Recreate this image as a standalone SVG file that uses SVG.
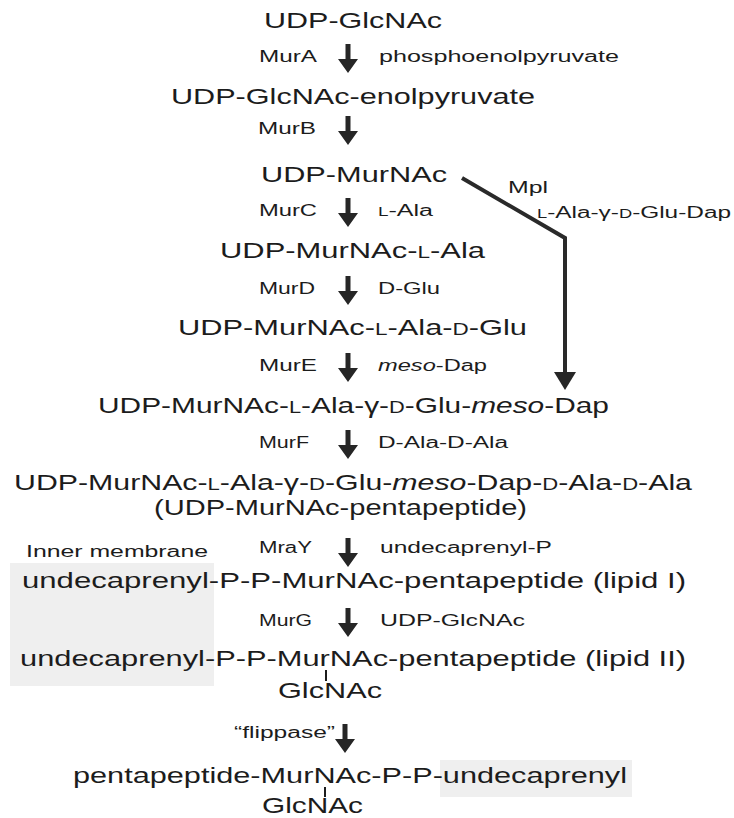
<svg xmlns="http://www.w3.org/2000/svg" width="734" height="818" viewBox="0 0 734 818">
<style>
text{font-family:"Liberation Sans",Arial,sans-serif;fill:#1c1c1c}
.m{font-size:22px}
.l{font-size:16px}
.sc{font-size:16px}
.scl{font-size:12px}
.i{font-style:italic}
.arr{fill:#262626}
.bond{stroke:#1c1c1c;stroke-width:2}
</style>
<defs>
<path id="ar" class="arr" d="M-2.5,0 H2.5 V15 H10 L0,29 L-10,15 H-2.5 Z"/>
</defs>
<rect x="10" y="563" width="204" height="123" fill="#efefef"/>
<rect x="440" y="760" width="192" height="37" fill="#efefef"/>
<g id="connectors">
<use href="#ar" x="348" y="44"/>
<use href="#ar" x="348" y="116"/>
<use href="#ar" x="348" y="198"/>
<use href="#ar" x="348" y="276"/>
<use href="#ar" x="348" y="353"/>
<use href="#ar" x="348" y="430"/>
<use href="#ar" x="348" y="538"/>
<use href="#ar" x="348" y="608"/>
<use href="#ar" x="345" y="724"/>
<polyline points="462,178 565,238 565,376" fill="none" stroke="#2a2a2a" stroke-width="4"/>
<path class="arr" d="M554,372 H576 L565,390 Z"/>
</g>
<g id="labels">
<text class="l" x="259" y="62" textLength="58" lengthAdjust="spacingAndGlyphs">MurA</text>
<text class="l" x="379" y="62" textLength="240" lengthAdjust="spacingAndGlyphs">phosphoenolpyruvate</text>
<text class="l" x="258" y="134" textLength="58" lengthAdjust="spacingAndGlyphs">MurB</text>
<text class="l" x="259" y="216" textLength="58" lengthAdjust="spacingAndGlyphs">MurC</text>
<text class="l" x="378" y="216" textLength="55" lengthAdjust="spacingAndGlyphs"><tspan class="scl">L</tspan>-Ala</text>
<text class="l" x="508" y="193" textLength="40" lengthAdjust="spacingAndGlyphs">Mpl</text>
<text class="l" x="537" y="218" textLength="194" lengthAdjust="spacingAndGlyphs"><tspan class="scl">L</tspan>-Ala-γ-<tspan class="scl">D</tspan>-Glu-Dap</text>
<text class="l" x="259" y="294" textLength="56" lengthAdjust="spacingAndGlyphs">MurD</text>
<text class="l" x="378" y="294" textLength="62" lengthAdjust="spacingAndGlyphs">D-Glu</text>
<text class="l" x="259" y="371" textLength="58" lengthAdjust="spacingAndGlyphs">MurE</text>
<text class="l" x="378" y="371" textLength="109" lengthAdjust="spacingAndGlyphs"><tspan class="i">meso</tspan>-Dap</text>
<text class="l" x="259" y="448" textLength="50" lengthAdjust="spacingAndGlyphs">MurF</text>
<text class="l" x="378" y="448" textLength="130" lengthAdjust="spacingAndGlyphs">D-Ala-D-Ala</text>
<text class="l" x="259" y="553" textLength="53" lengthAdjust="spacingAndGlyphs">MraY</text>
<text class="l" x="380" y="553" textLength="172" lengthAdjust="spacingAndGlyphs">undecaprenyl-P</text>
<text class="l" x="26" y="557" textLength="182" lengthAdjust="spacingAndGlyphs">Inner membrane</text>
<text class="l" x="259" y="626" textLength="53" lengthAdjust="spacingAndGlyphs">MurG</text>
<text class="l" x="380" y="626" textLength="145" lengthAdjust="spacingAndGlyphs">UDP-GlcNAc</text>
<text class="l" x="234" y="738" textLength="101" lengthAdjust="spacingAndGlyphs">“flippase”</text>
</g>
<g id="n1"><text class="m" x="264" y="28" textLength="178" lengthAdjust="spacingAndGlyphs">UDP-GlcNAc</text></g>
<g id="n2"><text class="m" x="171" y="104" textLength="364" lengthAdjust="spacingAndGlyphs">UDP-GlcNAc-enolpyruvate</text></g>
<g id="n3"><text class="m" x="261" y="182" textLength="186" lengthAdjust="spacingAndGlyphs">UDP-MurNAc</text></g>
<g id="n4"><text class="m" x="220" y="258" textLength="265" lengthAdjust="spacingAndGlyphs">UDP-MurNAc-<tspan class="sc">L</tspan>-Ala</text></g>
<g id="n5"><text class="m" x="178" y="335" textLength="349" lengthAdjust="spacingAndGlyphs">UDP-MurNAc-<tspan class="sc">L</tspan>-Ala-<tspan class="sc">D</tspan>-Glu</text></g>
<g id="n6"><text class="m" x="98" y="413" textLength="511" lengthAdjust="spacingAndGlyphs">UDP-MurNAc-<tspan class="sc">L</tspan>-Ala-γ-<tspan class="sc">D</tspan>-Glu-<tspan class="i">meso</tspan>-Dap</text></g>
<g id="n7">
<text class="m" x="14" y="490" textLength="678" lengthAdjust="spacingAndGlyphs">UDP-MurNAc-<tspan class="sc">L</tspan>-Ala-γ-<tspan class="sc">D</tspan>-Glu-<tspan class="i">meso</tspan>-Dap-<tspan class="sc">D</tspan>-Ala-<tspan class="sc">D</tspan>-Ala</text>
<text class="m" x="154" y="515" textLength="373" lengthAdjust="spacingAndGlyphs">(UDP-MurNAc-pentapeptide)</text>
</g>
<g id="n8"><text class="m" x="22" y="588" textLength="664" lengthAdjust="spacingAndGlyphs">undecaprenyl-P-P-MurNAc-pentapeptide (lipid I)</text></g>
<g id="n9">
<text class="m" x="20" y="666" textLength="666" lengthAdjust="spacingAndGlyphs">undecaprenyl-P-P-MurNAc-pentapeptide (lipid II)</text>
<line class="bond" x1="326" y1="670" x2="326" y2="681"/>
<text class="m" x="278" y="698" textLength="104" lengthAdjust="spacingAndGlyphs">GlcNAc</text>
</g>
<g id="n10">
<text class="m" x="73" y="783" textLength="554" lengthAdjust="spacingAndGlyphs">pentapeptide-MurNAc-P-P-undecaprenyl</text>
<line class="bond" x1="325" y1="787" x2="325" y2="797"/>
<text class="m" x="262" y="813" textLength="101" lengthAdjust="spacingAndGlyphs">GlcNAc</text>
</g>
</svg>
